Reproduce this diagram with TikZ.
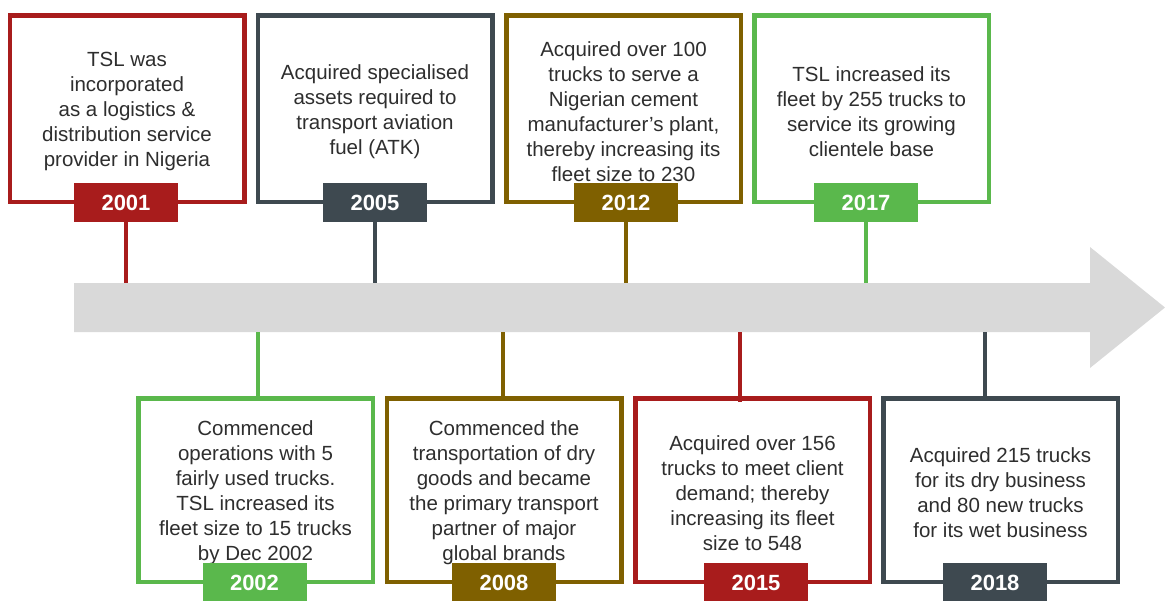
\documentclass[tikz,border=0pt]{standalone}
\usepackage{fontspec}
\setmainfont{Liberation Sans}
\definecolor{cred}{HTML}{A81C1C}
\definecolor{cslate}{HTML}{3E4950}
\definecolor{cbrown}{HTML}{7F6000}
\definecolor{cgreen}{HTML}{5AB84C}
\definecolor{carrow}{HTML}{D9D9D9}
\definecolor{ctext}{HTML}{2E2E2E}
\newcommand{\tstrut}{\rule{0pt}{21pt}}
\begin{document}
\begin{tikzpicture}[x=1pt,y=-1pt,
  evbox/.style={draw=#1, line width=4.5pt, fill=white, inner sep=0pt,
    minimum width=234.5pt, minimum height=186.5pt, align=center,
    text=ctext, font=\fontsize{20.5}{25}\selectfont},
  yearlab/.style={fill=#1, inner sep=0pt, minimum width=104pt, minimum height=39pt,
    text=white, font=\fontsize{22}{26}\selectfont\bfseries},
  conn/.style={draw=#1, line width=4.5pt}]
\useasboundingbox (0,0) rectangle (1165,600);
% timeline arrow
\fill[carrow] (74,283) -- (1090,283) -- (1090,247) -- (1165,307.5) -- (1090,368) -- (1090,332) -- (74,332) -- cycle;
\coordinate (t2001) at (126,283);
\coordinate (t2005) at (375,283);
\coordinate (t2012) at (626,283);
\coordinate (t2017) at (866,283);
\coordinate (d2002) at (258,332);
\coordinate (d2008) at (503,332);
\coordinate (d2015) at (740,332);
\coordinate (d2018) at (985,332);
% top boxes
\node[evbox=cred] (b2001) at (127,108.5) {\tstrut TSL was\\incorporated\\as a logistics \&\\distribution service\\provider in Nigeria};
\node[evbox=cslate] (b2005) at (375,108.5) {\tstrut Acquired specialised\\assets required to\\transport aviation\\fuel (ATK)};
\node[evbox=cbrown] (b2012) at (623.5,108.5) {\tstrut Acquired over 100\\trucks to serve a\\Nigerian cement\\manufacturer’s plant,\\thereby increasing its\\fleet size to 230};
\node[evbox=cgreen] (b2017) at (871.5,108.5) {\tstrut TSL increased its\\fleet by 255 trucks to\\service its growing\\clientele base};
% bottom boxes
\node[evbox=cgreen, minimum height=183.5pt] (b2002) at (255.5,490) {\tstrut Commenced\\operations with 5\\fairly used trucks.\\TSL increased its\\fleet size to 15 trucks\\by Dec 2002};
\node[evbox=cbrown, minimum height=183.5pt] (b2008) at (504,490) {\tstrut Commenced the\\transportation of dry\\goods and became\\the primary transport\\partner of major\\global brands};
\node[evbox=cred, minimum height=183.5pt] (b2015) at (752.5,490) {\tstrut Acquired over 156\\trucks to meet client\\demand; thereby\\increasing its fleet\\size to 548};
\node[evbox=cslate, minimum height=183.5pt] (b2018) at (1000.5,490) {\tstrut Acquired 215 trucks\\for its dry business\\and 80 new trucks\\for its wet business};
% year labels
\node[yearlab=cred] (l2001) at (126,202.5) {2001};
\node[yearlab=cslate] (l2005) at (375,202.5) {2005};
\node[yearlab=cbrown] (l2012) at (626,202.5) {2012};
\node[yearlab=cgreen] (l2017) at (866,202.5) {2017};
\node[yearlab=cgreen] (l2002) at (254.5,582.5) {2002};
\node[yearlab=cbrown] (l2008) at (504,582.5) {2008};
\node[yearlab=cred] (l2015) at (756,582.5) {2015};
\node[yearlab=cslate] (l2018) at (995,582.5) {2018};
% connectors
\draw[conn=cred] (l2001.south) -- (t2001);
\draw[conn=cslate] (l2005.south) -- (t2005);
\draw[conn=cbrown] (l2012.south) -- (t2012);
\draw[conn=cgreen] (l2017.south) -- (t2017);
\draw[conn=cgreen] (d2002) -- (d2002 |- b2002.north);
\draw[conn=cbrown] (d2008) -- (d2008 |- b2008.north);
\draw[conn=cred] (d2015) -- ([yshift=-6pt]d2015 |- b2015.north);
\draw[conn=cslate] (d2018) -- (d2018 |- b2018.north);
\end{tikzpicture}
\end{document}
